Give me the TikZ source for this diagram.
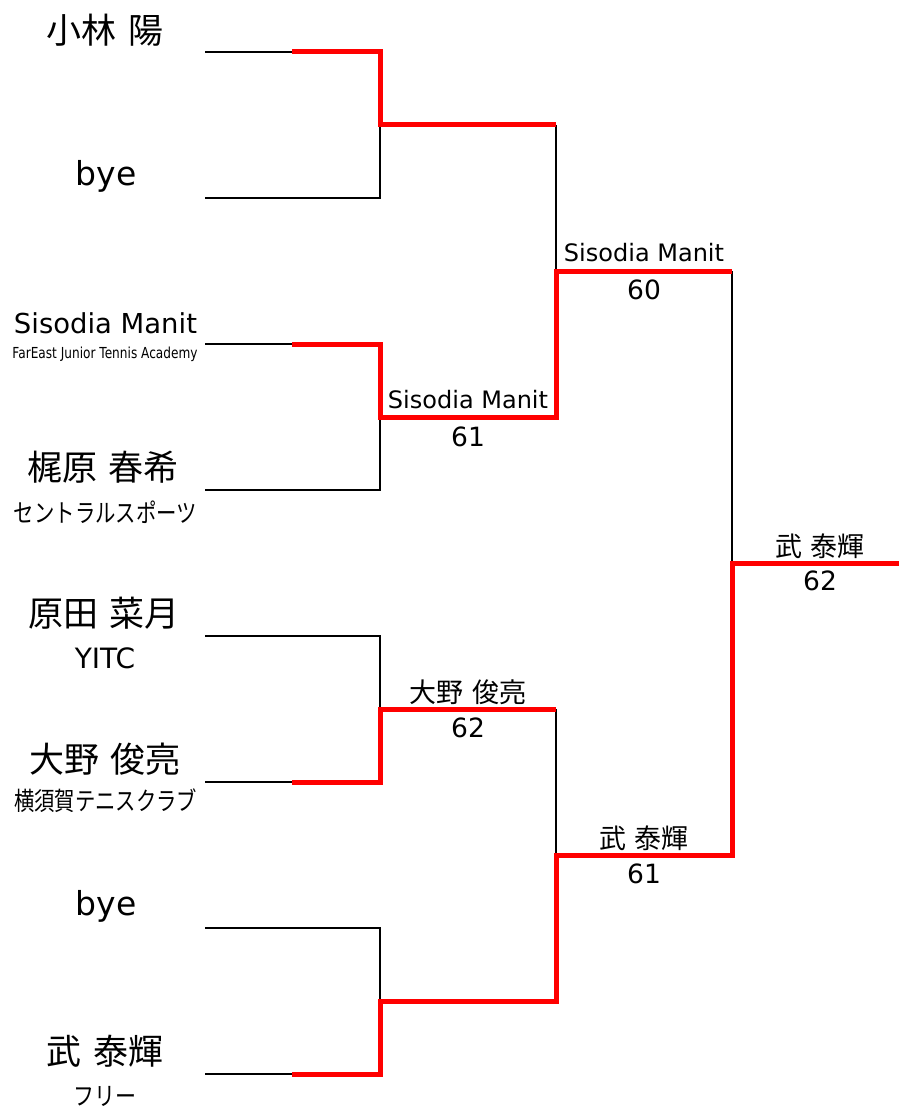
\documentclass[tikz,border=0pt]{standalone}
\usepackage{fontspec}
\setmainfont{DejaVu Sans}
\newfontfamily\jp{Noto Sans CJK JP}
\newcommand{\jsp}{\hspace{0.32em}}
\newcommand{\fitaff}[1]{\scalebox{1}[1.25]{\resizebox{183pt}{!}{#1}}}
\begin{document}
\begin{tikzpicture}[x=1pt,y=-1pt,
  bline/.style={draw=black,line width=2.8pt,line join=miter},
  rline/.style={draw=red,line width=5pt,line join=miter},
  pname/.style={inner sep=0pt,font=\jp\fontsize{35}{38}\selectfont},
  plat/.style={inner sep=0pt,font=\fontsize{33}{36}\selectfont},
  paff/.style={inner sep=0pt,font=\jp\fontsize{22}{24}\selectfont},
  plaff/.style={inner sep=0pt,font=\fontsize{28}{30}\selectfont},
  wlab/.style={inner sep=0pt,font=\fontsize{24}{26}\selectfont},
  wnum/.style={inner sep=0pt,font=\fontsize{26.5}{28}\selectfont},
  wjlab/.style={inner sep=0pt,font=\jp\fontsize{27}{29}\selectfont}]
\useasboundingbox (0,0) rectangle (899,1107);
% player line coordinates
\foreach \i in {1,...,8}{
  \pgfmathsetmacro\yy{52+146*(\i-1)}
  \coordinate (a\i) at (205,\yy);
  \coordinate (m\i) at (292,\yy);
  \coordinate (b\i) at (380,\yy);
}
\coordinate (j1) at (380,125);  \coordinate (k1) at (556,125);
\coordinate (j2) at (380,417);  \coordinate (k2) at (556,417);
\coordinate (j3) at (380,709);  \coordinate (k3) at (556,709);
\coordinate (j4) at (380,1001); \coordinate (k4) at (556,1001);
\coordinate (l1) at (556,271);  \coordinate (o1) at (732,271);
\coordinate (l2) at (556,855);  \coordinate (o2) at (732,855);
\coordinate (f) at (732,563);   \coordinate (fo) at (899,563);
% names
\node[pname] (n1) at (105,30) {小林\jsp 陽};
\node[plat] (n2) at (106,176) {bye};
\node[plat] (n3) at (105.5,323) {\resizebox{183pt}{!}{Sisodia Manit}};
\node[plat] (c3) at (105,354) {\scalebox{1}[1.25]{\resizebox{185pt}{!}{FarEast Junior Tennis Academy}}};
\node[pname] (n4) at (103,467) {梶原\jsp 春希};
\node[paff] (c4) at (105.5,512) {\fitaff{セントラルスポーツ}};
\node[pname] (n5) at (104,613) {原田\jsp 菜月};
\node[plaff] (c5) at (105,658) {YITC};
\node[pname] (n6) at (105,759) {大野\jsp 俊亮};
\node[paff] (c6) at (105.5,801) {\fitaff{横須賀テニスクラブ}};
\node[plat] (n7) at (106,906) {bye};
\node[pname] (n8) at (105,1051) {武\jsp 泰輝};
\node[paff,font=\jp\fontsize{21}{23}\selectfont] (c8) at (105,1096) {\scalebox{1}[1.2]{フリー}};
% black lines
\draw[bline] (a1) -- (b1) -- (b2) -- (a2);
\draw[bline] (a3) -- (b3) -- (b4) -- (a4);
\draw[bline] (a5) -- (b5) -- (b6) -- (a6);
\draw[bline] (a7) -- (b7) -- (b8) -- (a8);
\draw[bline] (k1) -- (k2);
\draw[bline] (k3) -- (k4);
\draw[bline] (o1) -- (o2);
% red winner paths
\draw[rline] (m1) -- (b1) -- (j1) -- (k1);
\draw[rline] (m3) -- (b3) -- (j2) -- (k2) -- (l1) -- (o1);
\draw[rline] (m6) -- (b6) -- (j3) -- (k3);
\draw[rline] (m8) -- (b8) -- (j4) -- (k4) -- (l2) -- (o2) -- (f) -- (fo);
% winner labels
\node[wlab] (w2) at (468,400) {Sisodia Manit};
\node[wnum] (s2) at (468,437) {61};
\node[wjlab] (w3) at (468,692) {大野\jsp 俊亮};
\node[wnum] (s3) at (468,728) {62};
\node[wlab] (w5) at (644,253) {Sisodia Manit};
\node[wnum] (s5) at (644,290) {60};
\node[wjlab] (w6) at (644,838) {武\jsp 泰輝};
\node[wnum] (s6) at (644,874) {61};
\node[wjlab] (w7) at (820,546) {武\jsp 泰輝};
\node[wnum] (s7) at (820,581) {62};
\end{tikzpicture}
\end{document}
